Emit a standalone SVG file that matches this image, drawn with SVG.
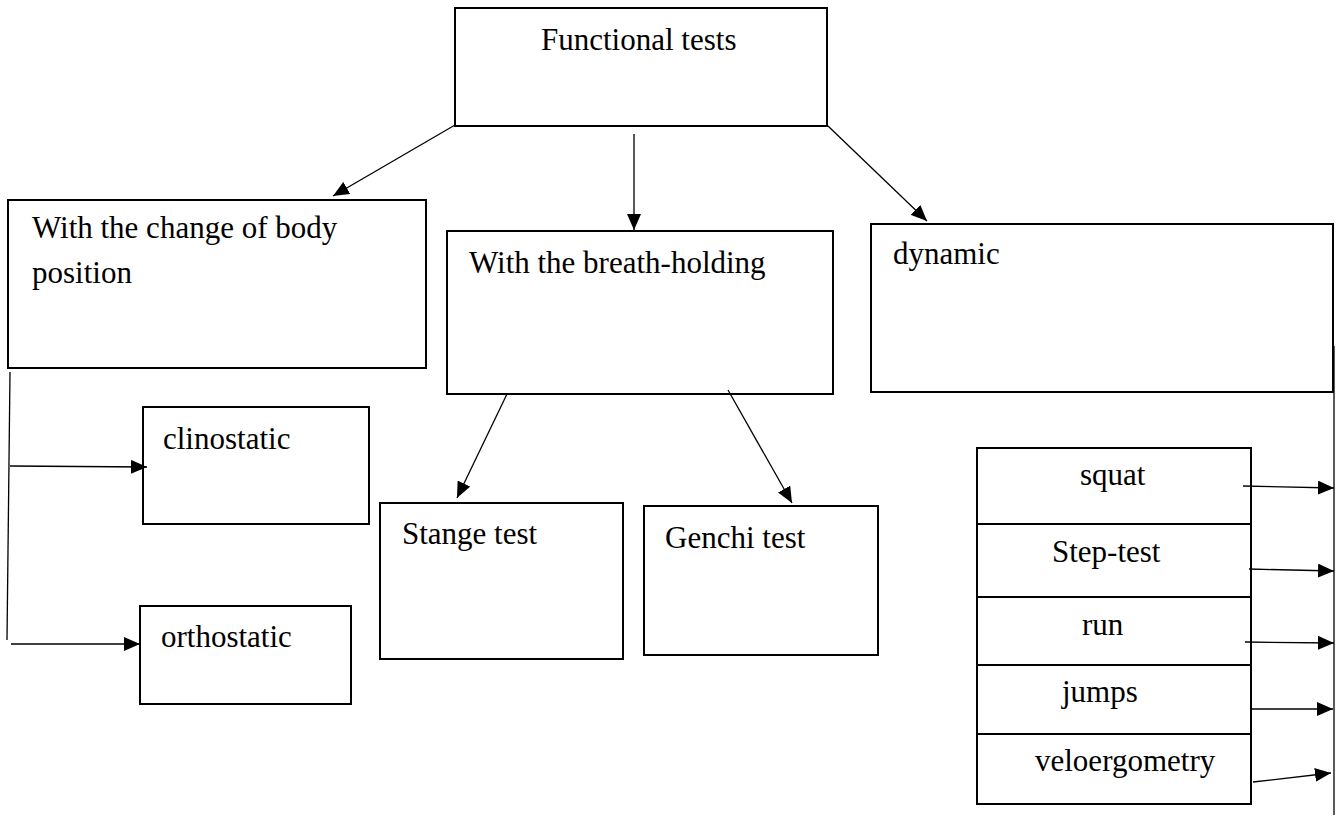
<svg xmlns="http://www.w3.org/2000/svg" width="1343" height="816" viewBox="0 0 1343 816">
<style>
.box{fill:#fff;stroke:#000;stroke-width:2}
.ln{fill:none;stroke:#000;stroke-width:1.3}
.t{font-family:"Liberation Serif","Times New Roman",serif;font-size:31px;fill:#000}
</style>
<defs>
<marker id="ah" markerUnits="userSpaceOnUse" markerWidth="16" markerHeight="14" refX="16" refY="7" orient="auto">
<path d="M0,0 L16,7 L0,14 z" fill="#000"/>
</marker>
</defs>
<rect width="1343" height="816" fill="#fff"/>
<g id="functional-tests">
<rect class="box" x="455" y="8" width="372" height="118"/>
<text class="t" x="541" y="50">Functional tests</text>
</g>
<g id="body-position">
<rect class="box" x="8" y="200" width="418" height="168"/>
<text class="t" x="32" y="238">With the change of body</text>
<text class="t" x="32" y="283">position</text>
</g>
<g id="breath-holding">
<rect class="box" x="447" y="231" width="386" height="163"/>
<text class="t" x="469" y="273">With the breath-holding</text>
</g>
<g id="dynamic">
<rect class="box" x="871" y="224" width="462" height="168"/>
<text class="t" x="893" y="264">dynamic</text>
</g>
<g id="clinostatic">
<rect class="box" x="143" y="407" width="226" height="117"/>
<text class="t" x="163" y="449">clinostatic</text>
</g>
<g id="orthostatic">
<rect class="box" x="140" y="606" width="211" height="98"/>
<text class="t" x="161" y="647">orthostatic</text>
</g>
<g id="stange">
<rect class="box" x="380" y="503" width="243" height="156"/>
<text class="t" x="402" y="544">Stange test</text>
</g>
<g id="genchi">
<rect class="box" x="644" y="506" width="234" height="149"/>
<text class="t" x="665" y="548">Genchi test</text>
</g>
<g id="squat">
<rect class="box" x="977" y="448" width="274" height="76"/>
<text class="t" x="1080" y="485">squat</text>
</g>
<g id="step-test">
<rect class="box" x="977" y="524" width="274" height="73"/>
<text class="t" x="1052" y="562">Step-test</text>
</g>
<g id="run">
<rect class="box" x="977" y="597" width="274" height="68"/>
<text class="t" x="1082" y="635">run</text>
</g>
<g id="jumps">
<rect class="box" x="977" y="665" width="274" height="69"/>
<text class="t" x="1062" y="702">jumps</text>
</g>
<g id="veloergometry">
<rect class="box" x="977" y="734" width="274" height="70"/>
<text class="t" x="1035" y="771">veloergometry</text>
</g>
<g id="connectors">
<line class="ln" x1="455" y1="125" x2="333" y2="196" marker-end="url(#ah)"/>
<line class="ln" x1="634" y1="134" x2="634" y2="230" marker-end="url(#ah)"/>
<line class="ln" x1="828" y1="126" x2="927" y2="221" marker-end="url(#ah)"/>
<line class="ln" x1="507" y1="394" x2="457" y2="498" marker-end="url(#ah)"/>
<line class="ln" x1="728" y1="390" x2="792" y2="503" marker-end="url(#ah)"/>
<line class="ln" x1="10" y1="372" x2="7" y2="640"/>
<line class="ln" x1="10" y1="466" x2="147" y2="467" marker-end="url(#ah)"/>
<line class="ln" x1="11" y1="644" x2="140" y2="644" marker-end="url(#ah)"/>
<line class="ln" x1="1334" y1="346" x2="1334" y2="815"/>
<line class="ln" x1="1243" y1="486" x2="1334" y2="488" marker-end="url(#ah)"/>
<line class="ln" x1="1249" y1="569" x2="1334" y2="571" marker-end="url(#ah)"/>
<line class="ln" x1="1245" y1="642" x2="1334" y2="643" marker-end="url(#ah)"/>
<line class="ln" x1="1252" y1="709" x2="1333" y2="709" marker-end="url(#ah)"/>
<line class="ln" x1="1253" y1="782" x2="1331" y2="773" marker-end="url(#ah)"/>
</g>
</svg>
